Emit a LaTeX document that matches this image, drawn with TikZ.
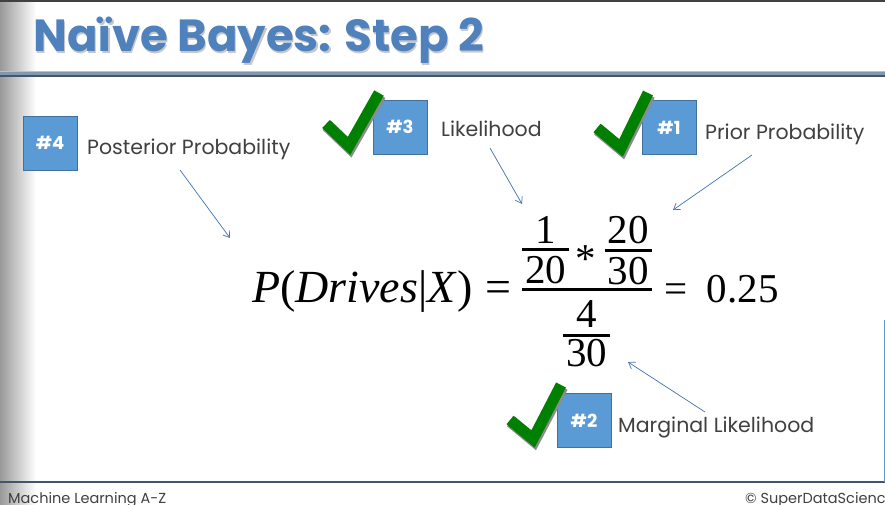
\RequirePackage{fix-cm}
\documentclass[tikz,border=0pt]{standalone}
\usepackage[no-math]{fontspec}
\newfontfamily\popfont{Poppins}
\newfontfamily\eqfont{Liberation Serif}
\usetikzlibrary{arrows.meta}
\definecolor{titleblue}{RGB}{79,129,189}
\definecolor{boxblue}{RGB}{91,155,213}
\definecolor{boxedge}{RGB}{65,113,156}
\definecolor{arrowblue}{RGB}{68,114,176}
\definecolor{checkgreen}{RGB}{0,128,0}
\definecolor{textgray}{RGB}{64,64,64}
\definecolor{rulemid}{RGB}{132,151,176}
\definecolor{ruledark}{RGB}{68,84,106}
% #1 side padding, #2 gap above bar, #3 gap below bar, #4 numerator, #5 denominator
\newcommand\fracstack[5]{\ensuremath{\vcenter{\offinterlineskip\halign{\hfil\hskip#1##\hskip#1\hfil\cr #4\cr\noalign{\kern#2\hrule height 3pt\kern#3}#5\cr}}}}
\begin{document}
\begin{tikzpicture}[x=1pt,y=-1pt,
  numbox/.style={draw=boxedge, fill=boxblue, line width=0.8pt, minimum width=54pt, minimum height=54pt, inner sep=0pt, text=white, font=\popfont\bfseries\fontsize{18}{20}\selectfont},
  lbl/.style={anchor=base west, inner sep=0pt, text=textgray, font=\popfont\fontsize{20.5}{24}\selectfont},
  ptr/.style={draw=arrowblue, line width=0.7pt, -{Straight Barb[length=6pt,width=8pt]}},
  checkshade/.style={line width=12.5pt, draw=black!45, line join=miter},
  checkmark/.style={line width=11pt, draw=checkgreen, line join=miter},
  foot/.style={anchor=base west, inner sep=0pt, text=textgray, font=\popfont\fontsize{14.5}{17}\selectfont},
  titletext/.style={anchor=base west, inner sep=0pt, font=\popfont\bfseries\fontsize{45}{52}\selectfont},
]
\clip (0,0) rectangle (885,505);
\fill[white] (0,0) rectangle (885,505);
\shade[left color=black!40, right color=white] (0,0) rectangle (36,505);
\fill[black!75] (0,0) rectangle (885,2.5);
% title rule
\fill[black!25] (0,71) rectangle (885,72.5);
\fill[rulemid] (0,72.5) rectangle (885,75.5);
\fill[ruledark] (0,75.5) rectangle (885,77);
% title
\node[titletext, text=black!22] (titleshadow) at (34.5,53.5) {Naïve Bayes: Step 2};
\node[titletext, text=titleblue] (title) at (33,52) {Naïve Bayes: Step 2};
% bottom rule and right line
\draw[ruledark, line width=1.2pt] (0,482) -- (885,482);
\draw[boxblue, line width=1pt] (884,320) -- (884,482);
\node[foot] (ml) at (8,503) {Machine Learning A-Z};
\node[foot] (sds) at (745,503) {© SuperDataScience};
% boxes
\node[numbox] (b4) at (50,143) {\#4};
\node[numbox] (b3) at (400,127) {\#3};
\node[numbox] (b1) at (669,127.5) {\#1};
\node[numbox] (b2) at (584,420.5) {\#2};
% checks
\draw[checkshade] (327,125.5) -- (350,147.5) -- (380,95);
\draw[checkmark] (326,124) -- (349,146) -- (379,93);
\draw[checkshade] (598,129.5) -- (622,149.5) -- (649,95);
\draw[checkmark] (597,128) -- (621,148) -- (648,93);
\draw[checkshade] (511,421.5) -- (534,440.5) -- (562,387);
\draw[checkmark] (510,420) -- (533,439) -- (561,385);
% labels
\node[lbl] (l4) at (87,155) {Posterior Probability};
\node[lbl] (l3) at (441,137) {Likelihood};
\node[lbl] (l1) at (705,140) {Prior Probability};
\node[lbl] (l2) at (618,432) {Marginal Likelihood};
% formula
\node[anchor=base west, inner sep=0pt, font=\eqfont\fontsize{46}{54}\selectfont] (formula) at (252,302)
  {\textit{P}(\textit{Drives}|\textit{X})\hskip0.28em=\hskip11pt{\fontsize{41}{48}\selectfont\fracstack{0pt}{3.5pt}{9.5pt}{\fracstack{3pt}{5pt}{5pt}{1}{20}\hskip6pt\raisebox{-0.3em}{*}\hskip9pt\fracstack{3pt}{5pt}{5pt}{20}{30}}{\fracstack{3pt}{6.8pt}{2.5pt}{4}{30}}\hskip13pt=\hskip19pt0.25}};
% arrows
\coordinate (p4s) at (180,170); \coordinate (p4e) at (230,238);
\coordinate (p3s) at (490,148); \coordinate (p3e) at (522,204);
\coordinate (p1s) at (752,155); \coordinate (p1e) at (673,210);
\coordinate (p2s) at (705,412); \coordinate (p2e) at (628,362);
\draw[ptr] (p4s) -- (p4e);
\draw[ptr] (p3s) -- (p3e);
\draw[ptr] (p1s) -- (p1e);
\draw[ptr] (p2s) -- (p2e);
\end{tikzpicture}
\end{document}
